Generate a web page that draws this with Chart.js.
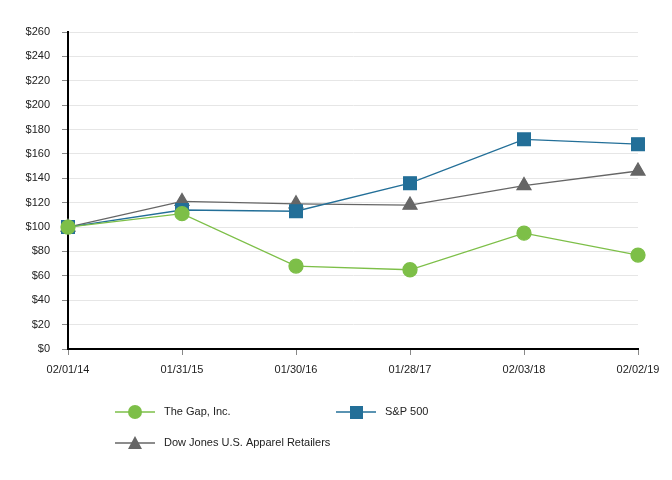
<!DOCTYPE html>
<html><head><meta charset="utf-8">
<script src="https://cdn.jsdelivr.net/npm/chart.js@4"></script>
<style>html,body{margin:0;padding:0;background:#fff}#wrap{width:672px;height:480px}</style>
</head><body><div id="wrap"><canvas id="c" width="672" height="480"></canvas></div>
<script>
const categories = ["02/01/14","01/31/15","01/30/16","01/28/17","02/03/18","02/02/19"];
const gapValues = [100, 111, 68, 65, 95, 77];
const spValues = [100, 114, 113, 136, 172, 168];
const djValues = [100, 121, 119, 118, 134, 146];
const seriesNames = ["The Gap, Inc.", "S&P 500", "Dow Jones U.S. Apparel Retailers"];

const FONT = {family: "'Liberation Sans', Arial, sans-serif", size: 11};

const legendPlugin = {
  id: 'customLegend',
  afterDraw(chart) {
    const ctx = chart.ctx;
    const pos = [[115, 412], [336, 412], [115, 443]];
    chart.data.datasets.forEach((ds, i) => {
      const [x, y] = pos[i];
      ctx.save();
      ctx.strokeStyle = ds.borderColor;
      ctx.lineWidth = 1.5;
      ctx.beginPath(); ctx.moveTo(x, y); ctx.lineTo(x + 40, y); ctx.stroke();
      ctx.fillStyle = ds.pointBackgroundColor;
      ctx.beginPath();
      if (ds.pointStyle === 'circle') { ctx.arc(x + 20, y, 7, 0, Math.PI * 2); }
      else if (ds.pointStyle === 'rect') { ctx.rect(x + 14, y - 6, 13, 13); }
      else { ctx.moveTo(x + 20, y - 7); ctx.lineTo(x + 27, y + 6); ctx.lineTo(x + 13, y + 6); ctx.closePath(); }
      ctx.fill();
      ctx.fillStyle = '#222';
      ctx.font = "11px 'Liberation Sans', Arial, sans-serif";
      ctx.textBaseline = 'middle';
      ctx.fillText(ds.label, x + 49, y);
      ctx.restore();
    });
  }
};

new Chart(document.getElementById('c'), {
  type: 'line',
  data: {
    labels: categories,
    datasets: [
      {label: seriesNames[0], data: gapValues, borderColor: '#7dbf48', backgroundColor: '#7dbf48', pointBackgroundColor: '#7dbf48', pointBorderColor: '#7dbf48', pointStyle: 'circle', pointRadius: 7, borderWidth: 1.3, order: 1},
      {label: seriesNames[1], data: spValues, borderColor: '#236f98', backgroundColor: '#236f98', pointBackgroundColor: '#236f98', pointBorderColor: '#236f98', pointStyle: 'rect', pointRadius: 9, borderWidth: 1.3, order: 2},
      {label: seriesNames[2], data: djValues, borderColor: '#666666', backgroundColor: '#666666', pointBackgroundColor: '#666666', pointBorderColor: '#666666', pointStyle: 'triangle', pointRadius: 8, borderWidth: 1.3, order: 3}
    ]
  },
  options: {
    responsive: false,
    animation: false,
    layout: {padding: {left: 0, right: 34, top: 32, bottom: 0}},
    plugins: {legend: {display: false}, tooltip: {enabled: false}},
    scales: {
      x: {
        offset: false,
        grid: {drawOnChartArea: false, drawTicks: true, tickLength: 6, tickColor: '#888'},
        border: {color: '#000', width: 2},
        ticks: {color: '#222', font: FONT, padding: 8, maxRotation: 0, autoSkip: false},
        afterFit(s) { s.height = 131; }
      },
      y: {
        min: 0, max: 260,
        grid: {color: '#e6e6e6', drawTicks: true, tickLength: 6, tickColor: '#888'},
        border: {color: '#000', width: 2},
        ticks: {stepSize: 20, color: '#222', font: FONT, padding: 12, callback: v => '$' + v},
        afterFit(s) { s.width = 68; }
      }
    }
  },
  plugins: [legendPlugin]
});
</script>
</body></html>
